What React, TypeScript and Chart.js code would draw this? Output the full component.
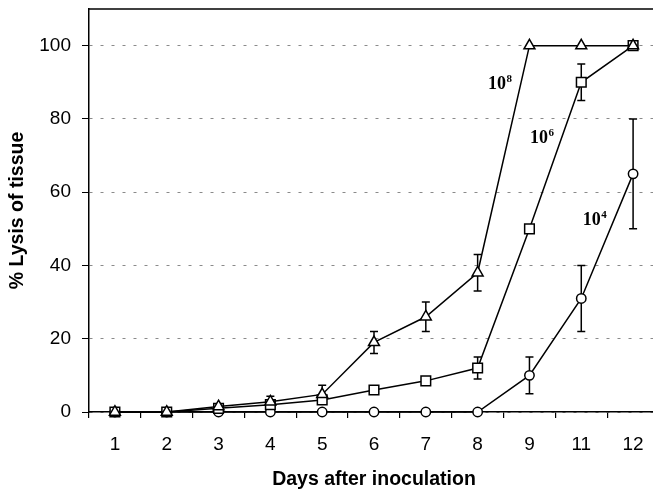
import React, { useEffect, useRef } from "react";
import { Chart, registerables } from "chart.js";

Chart.register(...registerables);

const days = ["1", "2", "3", "4", "5", "6", "7", "8", "9", "11", "12"];
const dose8 = [0, 0, 1.5, 2.8, 4.8, 19, 26, 38, 100, 100, 100];
const dose8Err = [0, 0, 0.5, 1.5, 2.5, 3, 4, 5, 0, 0, 0];
const dose6 = [0, 0, 1, 2, 3.3, 6, 8.5, 12, 50, 90, 100];
const dose6Err = [0, 0, 0, 0.5, 1, 0.5, 1, 3, 0, 5, 0];
const dose4 = [0, 0, 0, 0, 0, 0, 0, 0, 10, 31, 65];
const dose4Err = [0, 0, 0, 0, 0, 0, 0, 0, 5, 9, 15];
const yTicks = [0, 20, 40, 60, 80, 100];

const labelBase = ["10", "10", "10"];
const labelExp = ["8", "6", "4"];
const labelAtDay = [7.2, 8.01, 9.03];
const labelAtValue = [88.2, 73.5, 51.1];

const errorBars = {
  id: "errorBars",
  beforeDatasetsDraw(chart: any) {
    const { ctx } = chart;
    const x = chart.scales.x;
    const y = chart.scales.y;
    ctx.save();
    ctx.strokeStyle = "#000";
    ctx.lineWidth = 1.5;
    chart.data.datasets.forEach((ds: any) => {
      const errs: number[] = ds.errors || [];
      ds.data.forEach((v: number, i: number) => {
        const e = errs[i];
        if (!e) return;
        const px = x.getPixelForValue(i);
        const top = y.getPixelForValue(v + e);
        const bot = y.getPixelForValue(v - e);
        ctx.beginPath();
        ctx.moveTo(px, top);
        ctx.lineTo(px, bot);
        ctx.moveTo(px - 4, top);
        ctx.lineTo(px + 4, top);
        ctx.moveTo(px - 4, bot);
        ctx.lineTo(px + 4, bot);
        ctx.stroke();
      });
    });
    ctx.restore();
  },
};

const frameAndLabels = {
  id: "frameAndLabels",
  afterDraw(chart: any) {
    const { ctx, chartArea } = chart;
    const x = chart.scales.x;
    const y = chart.scales.y;
    ctx.save();
    ctx.strokeStyle = "#000";
    ctx.lineWidth = 1.5;
    ctx.beginPath();
    ctx.moveTo(chartArea.left, chartArea.top);
    ctx.lineTo(chartArea.right, chartArea.top);
    ctx.stroke();
    ctx.fillStyle = "#000";
    ctx.textAlign = "left";
    ctx.textBaseline = "alphabetic";
    labelBase.forEach((t, i) => {
      const px = x.getPixelForValue(labelAtDay[i]);
      const py = y.getPixelForValue(labelAtValue[i]);
      ctx.font = 'bold 18px "Liberation Serif"';
      ctx.fillText(t, px, py);
      const w = ctx.measureText(t).width;
      ctx.font = 'bold 11px "Liberation Serif"';
      ctx.fillText(labelExp[i], px + w + 0.5, py - 7);
    });
    ctx.restore();
  },
};

export default function App() {
  const ref = useRef<HTMLCanvasElement | null>(null);
  useEffect(() => {
    if (!ref.current) return;
    const common = {
      borderColor: "#000",
      borderWidth: 1.5,
      pointBackgroundColor: "#fff",
      pointBorderColor: "#000",
      pointBorderWidth: 1.5,
      tension: 0,
      clip: false,
    };
    const chart = new Chart(ref.current, {
      type: "line",
      data: {
        labels: days,
        datasets: [
          { ...common, label: "10^8", data: dose8, errors: dose8Err, pointStyle: "triangle", pointRadius: 6.3 } as any,
          { ...common, label: "10^6", data: dose6, errors: dose6Err, pointStyle: "rect", pointRadius: 6.8 } as any,
          { ...common, label: "10^4", data: dose4, errors: dose4Err, pointStyle: "circle", pointRadius: 4.7 } as any,
        ],
      },
      options: {
        animation: false,
        responsive: false,
        devicePixelRatio: 1,
        layout: { padding: { top: 9, right: 11, left: 0, bottom: 0 } },
        plugins: { legend: { display: false }, tooltip: { enabled: false } },
        scales: {
          x: {
            type: "category",
            offset: true,
            grid: { offset: true, drawOnChartArea: false, drawTicks: true, tickLength: 6, color: "#000", lineWidth: 1.2 },
            border: { display: true, color: "#000", width: 1.5 },
            ticks: { color: "#000", padding: 15, font: { family: '"Liberation Sans", Arial', size: 19 }, maxRotation: 0, autoSkip: false },
            title: {
              display: true,
              text: "Days after inoculation",
              color: "#000",
              font: { family: '"Liberation Sans", Arial', size: 19.5, weight: "bold", lineHeight: 1 },
              padding: { top: 0, bottom: 0 },
            },
            afterFit(scale: any) {
              scale.height = 77;
              scale.paddingLeft = 0;
              scale.paddingRight = 0;
            },
          },
          y: {
            type: "linear",
            min: 0,
            max: 110,
            afterBuildTicks(scale: any) {
              scale.ticks = yTicks.map((v) => ({ value: v }));
            },
            grid: {
              color: "#8a8a8a",
              lineWidth: 1,
              drawTicks: true,
              tickLength: 7,
              tickColor: "#000",
              tickBorderDash: [],
              tickWidth: 1,
            },
            border: { display: true, color: "#000", width: 1.5, dash: [3, 8] },
            ticks: { color: "#000", padding: 11, font: { family: '"Liberation Sans", Arial', size: 19 } },
            title: {
              display: true,
              text: "% Lysis of tissue",
              color: "#000",
              font: { family: '"Liberation Sans", Arial', size: 19.5, weight: "bold", lineHeight: 1.2 },
              padding: { top: 6, bottom: 0 },
            },
            afterFit(scale: any) {
              scale.width = 89;
              scale.paddingTop = 0;
              scale.paddingBottom = 0;
            },
          },
        },
      },
      plugins: [errorBars, frameAndLabels],
    } as any);
    return () => chart.destroy();
  }, []);
  return (
    <div style={{ position: "fixed", left: 0, top: 0, width: 653, height: 489, overflow: "hidden", background: "#fff" }}>
      <canvas ref={ref} width={670} height={489} style={{ display: "block" }} />
    </div>
  );
}
